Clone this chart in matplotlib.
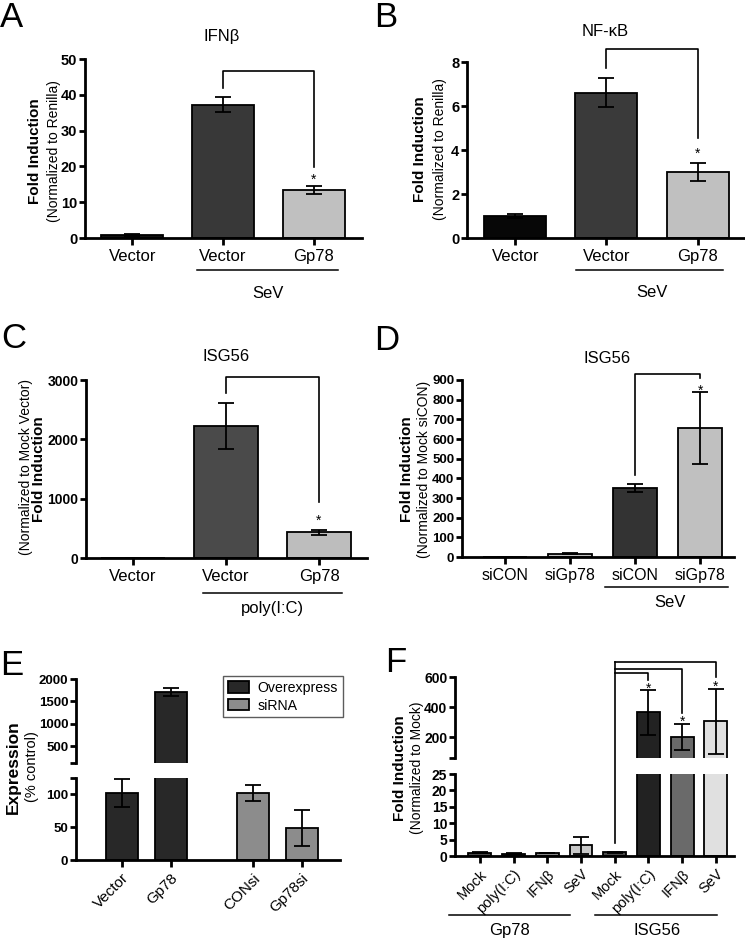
import matplotlib
matplotlib.use('Agg')
import matplotlib.pyplot as plt
from matplotlib.lines import Line2D
from matplotlib.patches import Patch

plt.rcParams['font.family'] = ['Liberation Sans', 'DejaVu Sans']
plt.rcParams['font.weight'] = 'bold'   # tick labels are bold; other texts set to normal explicitly

# ---------------- data ----------------
a_labels = ['Vector', 'Vector', 'Gp78']
a_values = [0.9, 37.2, 13.4]
a_errors = [0.25, 2.1, 1.0]

b_labels = ['Vector', 'Vector', 'Gp78']
b_values = [1.0, 6.6, 3.0]
b_errors = [0.08, 0.65, 0.43]

c_labels = ['Vector', 'Vector', 'Gp78']
c_values = [1, 2220, 430]
c_errors = [0, 385, 48]

d_labels = ['siCON', 'siGp78', 'siCON', 'siGp78']
d_values = [1, 17, 349, 657]
d_errors = [0.5, 4, 21, 182]

e_labels = ['Vector', 'Gp78', 'CONsi', 'Gp78si']
e_series = ['Overexpress', 'Overexpress', 'siRNA', 'siRNA']
e_values = [102, 1710, 102, 49]
e_errors = [21, 100, 12, 27]

f_labels = ['Mock', 'poly(I:C)', 'IFNβ', 'SeV', 'Mock', 'poly(I:C)', 'IFNβ', 'SeV']
f_values = [1.0, 0.7, 0.9, 3.3, 1.2, 365, 200, 305]
f_errors = [0.15, 0.1, 0.1, 2.6, 0.15, 150, 85, 215]
f_groups = ['Gp78', 'ISG56']

# ---------------- style ----------------
W, H = 745, 938
fig = plt.figure(figsize=(W / 100, H / 100), dpi=100)

SPINE_LW = 2.0
EDGE_LW = 1.3
ERR_LW = 1.3
CAP = 5.5
XSIZE = 12


def px_axes(x0, y0, x1, y1):
    return fig.add_axes([x0 / W, 1 - y1 / H, (x1 - x0) / W, (y1 - y0) / H])


def ftext(x, y, s, weight='normal', **kw):
    return fig.text(x / W, 1 - y / H, s, fontweight=weight, **kw)


def fline(x0, x1, y, lw=1.1):
    fig.add_artist(Line2D([x0 / W, x1 / W], [1 - y / H, 1 - y / H],
                          transform=fig.transFigure, color='black', lw=lw))


def style(ax, ysize=10.5, xsize=XSIZE, bottom=True):
    for s in ['top', 'right']:
        ax.spines[s].set_visible(False)
    ax.spines['left'].set_linewidth(SPINE_LW)
    ax.spines['bottom'].set_linewidth(SPINE_LW)
    ax.tick_params(axis='y', width=SPINE_LW, length=4.5, labelsize=ysize, pad=1)
    ax.tick_params(axis='x', width=SPINE_LW, length=5, labelsize=xsize, pad=3)
    if not bottom:
        ax.spines['bottom'].set_visible(False)
        ax.tick_params(axis='x', bottom=False, labelbottom=False)
    ax.patch.set_alpha(0)


def bars(ax, x, vals, errs, colors, width=0.68, err_min=None):
    ax.bar(x, vals, width, color=colors, edgecolor='black', linewidth=EDGE_LW, zorder=2)
    if err_min is not None:
        keep = [i for i, v in enumerate(vals) if v > err_min]
        x = [x[i] for i in keep]
        errs = [errs[i] for i in keep]
        vals = [vals[i] for i in keep]
    if vals:
        ax.errorbar(x, vals, yerr=errs, fmt='none', ecolor='black', elinewidth=ERR_LW,
                    capsize=CAP, capthick=ERR_LW, zorder=3)


def star(ax, x, y, size=10):
    ax.annotate('*', (x, y), xytext=(0, -0.57 * size), textcoords='offset points',
                ha='center', va='baseline', fontsize=size, fontweight='normal',
                annotation_clip=False)


def bracket(ax, x0, x1, y_left, y_top, y_right, lw=1.2):
    ax.plot([x0, x0, x1, x1], [y_left, y_top, y_top, y_right], color='black',
            lw=lw, clip_on=False, zorder=4)


def yticks(ax, ticks, labels=None):
    if labels is None:
        labels = [str(t) for t in ticks]
    ax.set_yticks(ticks, labels, fontweight='bold')


def xticks(ax, x, labels, **kw):
    ax.set_xticks(x, labels, fontweight='normal', **kw)


def ylab(x1, x2, y, s1, s2, size1=11, size2=10):
    ftext(x1, y, s1, weight='bold', rotation=90, ha='center', va='center', fontsize=size1)
    ftext(x2, y, s2, rotation=90, ha='center', va='center', fontsize=size2)


# ---------------- Panel A ----------------
axA = px_axes(85, 59, 362, 238)
style(axA)
xa = list(range(len(a_values)))
bars(axA, xa, a_values, a_errors, ['#111111', '#383838', '#c0c0c0'])
axA.set_xlim(-0.52, 2.53)
axA.set_ylim(0, 50)
yticks(axA, [0, 10, 20, 30, 40, 50])
xticks(axA, xa, a_labels)
bracket(axA, 1, 2, 41.8, 46.6, 19.9)
star(axA, 2, 17.3)
ftext(222, 41, 'IFNβ', ha='center', va='baseline', fontsize=12)
ylab(35, 54, 151, 'Fold Induction', '(Normalized to Renilla)')
fline(197, 338, 270)
ftext(268, 298, 'SeV', ha='center', va='baseline', fontsize=XSIZE)
ftext(0, 27, 'A', ha='left', va='baseline', fontsize=25)

# ---------------- Panel B ----------------
axB = px_axes(467, 62, 744, 238)
style(axB)
xb = list(range(len(b_values)))
bars(axB, xb, b_values, b_errors, ['#070707', '#3a3a3a', '#c0c0c0'])
axB.set_xlim(-0.53, 2.51)
axB.set_ylim(0, 8)
yticks(axB, [0, 2, 4, 6, 8])
xticks(axB, xb, b_labels)
bracket(axB, 1, 2, 7.71, 8.58, 4.53)
star(axB, 2, 4.0)
ftext(605, 36, 'NF-κB', ha='center', va='baseline', fontsize=12)
ylab(420, 440, 149, 'Fold Induction', '(Normalized to Renilla)')
fline(576, 723, 270)
ftext(652, 297, 'SeV', ha='center', va='baseline', fontsize=XSIZE)
ftext(374, 27, 'B', ha='left', va='baseline', fontsize=25)

# ---------------- Panel C ----------------
axC = px_axes(86, 380, 367, 558)
style(axC, ysize=10)
xc = list(range(len(c_values)))
bars(axC, xc, c_values, c_errors, ['#111111', '#4a4a4a', '#bdbdbd'])
axC.set_xlim(-0.505, 2.516)
axC.set_ylim(0, 3000)
yticks(axC, [0, 1000, 2000, 3000])
xticks(axC, xc, c_labels)
bracket(axC, 1, 2, 2786, 3045, 936)
star(axC, 2, 700)
ftext(226, 361, 'ISG56', ha='center', va='baseline', fontsize=12)
ftext(39, 469, 'Fold Induction', weight='bold', rotation=90, ha='center', va='center', fontsize=11)
ftext(26, 467, '(Normalized to Mock Vector)', rotation=90, ha='center', va='center', fontsize=10)
fline(203, 342, 593)
ftext(272, 613, 'poly(I:C)', ha='center', va='baseline', fontsize=XSIZE)
ftext(1, 348, 'C', ha='left', va='baseline', fontsize=25)

# ---------------- Panel D ----------------
axD = px_axes(462, 380, 734, 557)
style(axD, ysize=9.5, xsize=11.5)
xd = list(range(len(d_values)))
bars(axD, xd, d_values, d_errors, ['#111111', '#c0c0c0', '#333333', '#c0c0c0'])
axD.set_xlim(-0.66, 3.52)
axD.set_ylim(0, 900)
yticks(axD, list(range(0, 901, 100)))
xticks(axD, xd, d_labels)
bracket(axD, 2, 3, 417, 930, 908)
star(axD, 3, 866)
ftext(607, 363, 'ISG56', ha='center', va='baseline', fontsize=12)
ylab(407, 424, 469, 'Fold Induction', '(Normalized to Mock siCON)')
fline(605, 728, 587)
ftext(670, 607, 'SeV', ha='center', va='baseline', fontsize=XSIZE)
ftext(374, 350, 'D', ha='left', va='baseline', fontsize=25)

# ---------------- Panel E (broken axis) ----------------
e_colors = {'Overexpress': '#282828', 'siRNA': '#8c8c8c'}
xe = [0, 1, 2.7, 3.7]
axEu = px_axes(76, 679, 340, 763)
axEl = px_axes(76, 778, 340, 860)
style(axEu, ysize=9.5, bottom=False)
style(axEl, ysize=9.5)
axEu.set_ylim(125, 2000)
axEl.set_ylim(0, 125)
bars(axEu, xe, e_values, e_errors, [e_colors[s] for s in e_series], width=0.66, err_min=125)
bars(axEl, xe, e_values, e_errors, [e_colors[s] for s in e_series], width=0.66)
for ax in (axEu, axEl):
    ax.set_xlim(-0.95, 4.49)
yticks(axEu, [125, 500, 1000, 1500, 2000], ['', '500', '1000', '1500', '2000'])
yticks(axEl, [0, 50, 100, 125], ['0', '50', '100', ''])
xticks(axEl, xe, e_labels, rotation=45, ha='right', rotation_mode='anchor', fontsize=11)
handles = [Patch(facecolor=e_colors[s], edgecolor='black', linewidth=EDGE_LW, label=s)
           for s in dict.fromkeys(e_series)]
leg = axEu.legend(handles=handles, loc='upper left', bbox_to_anchor=(223 / W, 1 - 676 / H),
                  bbox_transform=fig.transFigure, frameon=True, fancybox=False,
                  edgecolor='#333333', prop={'size': 10.2, 'weight': 'normal'},
                  handlelength=1.5, handleheight=0.85,
                  borderpad=0.35, labelspacing=0.25, handletextpad=0.6, borderaxespad=0)
leg.get_frame().set_linewidth(1.0)
ylab(13, 32, 767, 'Expression', '(% control)', size1=12.5, size2=10.5)
ftext(0, 675, 'E', ha='left', va='baseline', fontsize=25)

# ---------------- Panel F (broken axis) ----------------
f_colors = ['#4a4a4a', '#444444', '#858585', '#c8c8c8',
            '#4a4a4a', '#222222', '#6a6a6a', '#e0e0e0']
xf = list(range(len(f_values)))
axFu = px_axes(455, 677, 734, 758)
axFl = px_axes(455, 774, 734, 856)
style(axFu, ysize=10, bottom=False)
style(axFl, ysize=10)
axFu.set_ylim(60, 600)
axFl.set_ylim(0, 25)
bars(axFu, xf, f_values, f_errors, f_colors, width=0.68, err_min=60)
bars(axFl, xf, f_values, f_errors, f_colors, width=0.68)
for ax in (axFu, axFl):
    ax.set_xlim(-0.74, 7.54)
yticks(axFu, [60, 200, 400, 600], ['', '200', '400', '600'])
yticks(axFl, [0, 5, 10, 15, 20, 25])
xticks(axFl, xf, f_labels, rotation=45, ha='right', rotation_mode='anchor', fontsize=10.5)

# brackets spanning the break: left leg from lower axis into upper axis
inv = axFu.transData.inverted()
y_left_low = inv.transform(axFl.transData.transform((4, 4.0)))[1]
axFu.plot([4, 4], [y_left_low, 700], color='black', lw=1.2, clip_on=False, zorder=4)
for xr, ytop, yr in [(5, 625, 580), (6, 656, 358), (7, 700, 598)]:
    axFu.plot([4, xr, xr], [ytop, ytop, yr], color='black', lw=1.2, clip_on=False, zorder=4)
star(axFu, 5, 545)
star(axFu, 6, 325)
star(axFu, 7, 558)

ylab(400, 417, 768, 'Fold Induction', '(Normalized to Mock)', size1=11, size2=10)
fline(449, 570, 915)
fline(595, 717, 915)
ftext(510, 935, f_groups[0], ha='center', va='baseline', fontsize=12)
ftext(657, 935, f_groups[1], ha='center', va='baseline', fontsize=12)
ftext(385, 672, 'F', ha='left', va='baseline', fontsize=25)

fig.savefig('out.png', dpi=100)
